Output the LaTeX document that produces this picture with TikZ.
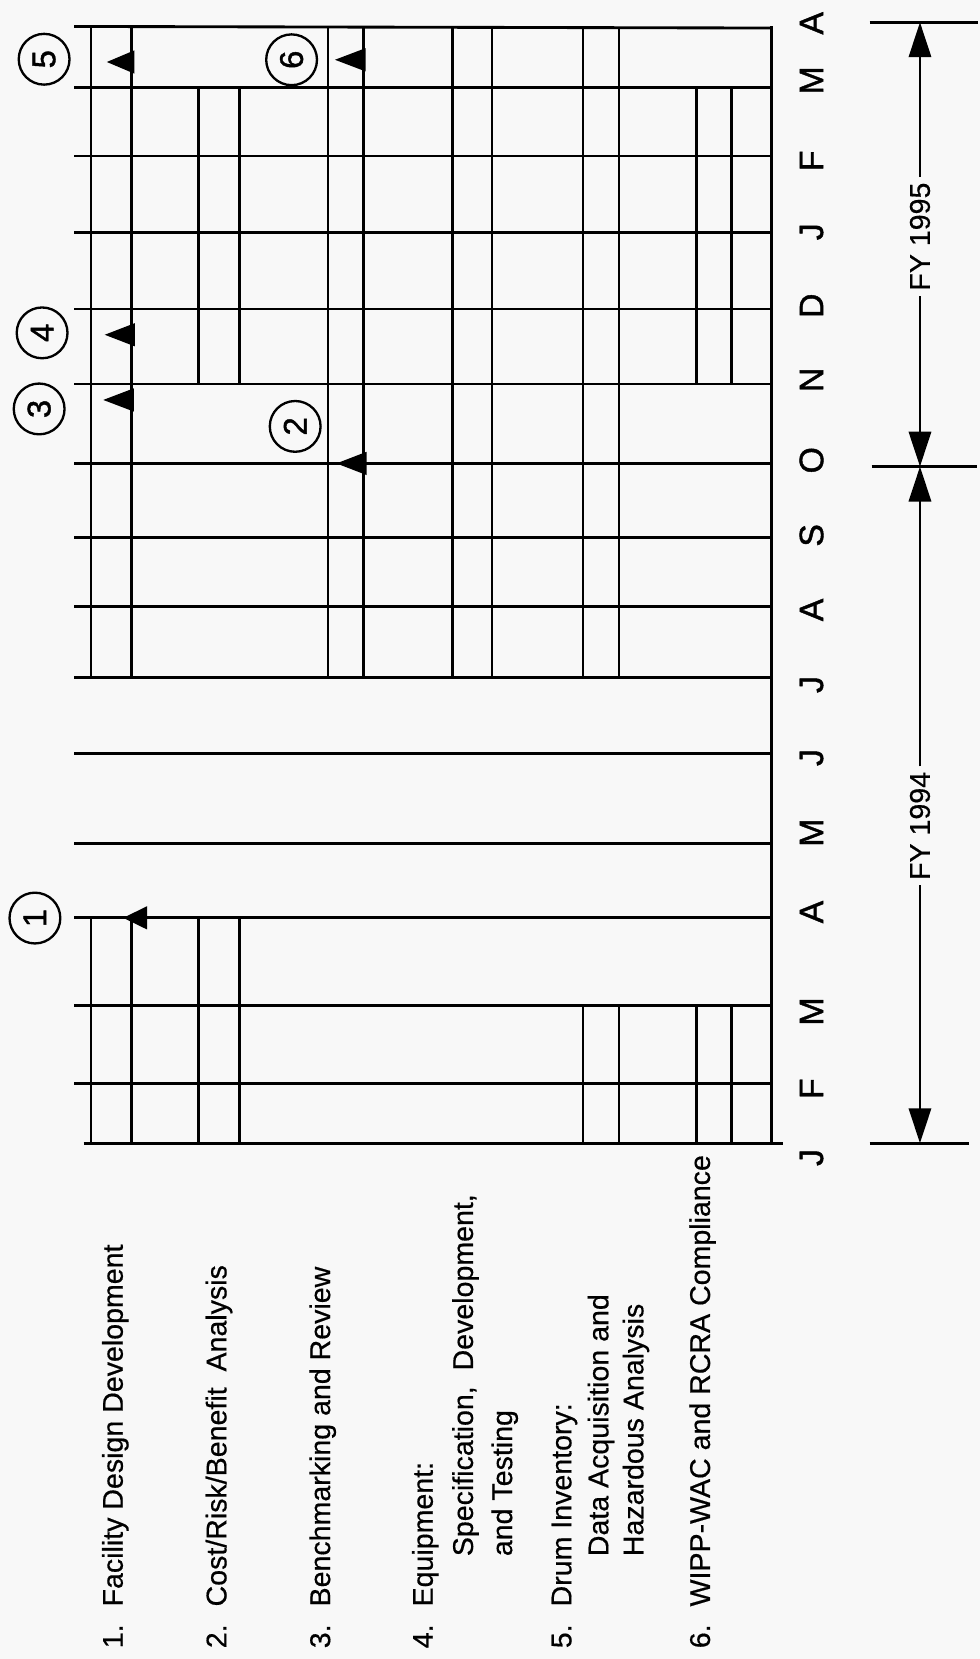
\documentclass[tikz,border=0pt]{standalone}
\usepackage{fontspec}
\setmainfont[FakeBold=0.5]{Liberation Sans}
\newfontfamily\monthfont[FakeBold=1.2]{Liberation Sans}
\usetikzlibrary{arrows.meta}
\definecolor{paper}{RGB}{248,248,248}
\newcommand\mstone[3]{\fill (#1,#2) -- (#3,{#2-11}) -- (#3,{#2+11}) -- cycle;}
\begin{document}
\begin{tikzpicture}[x=1pt,y=-1pt,
  hline/.style={line width=2.7pt},
  vline/.style={line width=2.7pt},
  ring/.style={circle,draw,line width=2.2pt,minimum size=48pt,inner sep=0pt,rotate=90,font=\monthfont\fontsize{31}{31}\selectfont},
  month/.style={rotate=90,inner sep=0pt,font=\monthfont\fontsize{32}{32}\selectfont},
  item/.style={rotate=90,anchor=base west,inner sep=0pt,font=\fontsize{27}{27}\selectfont},
  fylabel/.style={rotate=90,inner xsep=5pt,inner ysep=2pt,font=\fontsize{27}{27}\selectfont},
  dimline/.style={line width=2.5pt,-{Triangle[length=33pt,width=21pt]}},
  dimtick/.style={line width=2.7pt}
]
\path[fill=paper] (0,0) rectangle (926,1568);
\useasboundingbox (0,0) rectangle (926,1568);

% horizontal month lines
\foreach \yy in {83,147.5,220,292,363,438,508,573,640,712.5,797,867.5,950,1024}
  \draw[hline] (70,\yy) -- (729,\yy);
\draw[hline] (70,25) -- (729,26.5);
\draw[hline] (79,1080.5) -- (740,1080.5);

% right border
\draw[vline] (729,25) -- (729,1080.5);

% row 1: Facility Design Development
\draw[vline] (86,1080.5) -- (86,867.5) (124.4,1080.5) -- (124.4,867.5);
\draw[vline] (86,640) -- (86,25) (124.4,640) -- (124.4,25);
% row 2: Cost/Risk/Benefit
\draw[vline] (188,1080.5) -- (188,867.5) (226,1080.5) -- (226,867.5);
\draw[vline] (188,363) -- (188,83) (226,363) -- (226,83);
% row 3: Benchmarking
\draw[vline] (310,640) -- (310,25) (343.4,640) -- (343.4,25);
% row 4: Equipment
\draw[vline] (428,640) -- (428,25) (465,640) -- (465,25.5);
% row 5: Drum Inventory
\draw[vline] (551,1080.5) -- (551,950) (585,1080.5) -- (585,950);
\draw[vline] (551,640) -- (551,25.5) (585,640) -- (585,25.5);
% row 6: WIPP-WAC
\draw[vline] (658,1080.5) -- (658,950) (691,1080.5) -- (691,950);
\draw[vline] (658,363) -- (658,83) (691,363) -- (691,83);

% milestone markers
\mstone{101}{58.6}{127}
\mstone{99}{316.4}{127.5}
\mstone{97.6}{378}{126.5}
\mstone{316.6}{56.5}{345.5}
\mstone{318}{438}{346.5}
\mstone{116.5}{867.5}{139}

% milestone circles
\node[ring] (m5) at (41.7,56) {5};
\node[ring] (m6) at (275.6,56.5) {6};
\node[ring] (m4) at (39.8,314.6) {4};
\node[ring] (m3) at (37,386.5) {3};
\node[ring] (m2) at (279,403) {2};
\node[ring] (m1) at (33,867.7) {1};

% month labels
\foreach \lab/\yy [count=\i] in {A/22,M/76,F/152,J/219,D/289,N/359,O/435,S/506,A/576.5,J/647,J/716,M/787,A/862,M/956,F/1029,J/1094}
  \node[month] (mo\i) at (767,\yy) {\lab};

% task labels
\node[item] (n1) at (116,1558) {1.};
\node[item] (t1) at (116,1518.5) {Facility Design Development};
\node[item] (n2) at (214,1558) {2.};
\node[item] (t2) at (214,1518.5) {Cost/Risk/Benefit~~Analysis};
\node[item] (n3) at (312,1558) {3.};
\node[item] (t3) at (312,1518.5) {Benchmarking and Review};
\node[item] (n4) at (409,1558) {4.};
\node[item] (t4) at (409,1518.5) {Equipment:};
\node[item] (t4b) at (447,1471) {Specification,~~Development,};
\node[item] (t4c) at (484,1471) {and Testing};
\node[item] (n5) at (540,1558) {5.};
\node[item] (t5) at (540,1518.5) {Drum Inventory:};
\node[item] (t5b) at (575,1471) {Data Acquisition and};
\node[item] (t5c) at (608,1471) {Hazardous Analysis};
\node[item] (n6) at (671,1558) {6.};
\node[item] (t6) at (671,1518.5) {WIPP-WAC and RCRA Compliance};

% fiscal year dimensions
\coordinate (dtop) at (869.5,21);
\coordinate (dmid) at (869.5,441);
\coordinate (dbot) at (869.5,1080.5);
\node[fylabel] (fy95) at (869.5,223.6) {FY 1995};
\node[fylabel] (fy94) at (869.5,780.6) {FY 1994};
\draw[dimline] (fy95) -- (dtop);
\draw[dimline] (fy95) -- (dmid);
\draw[dimline] (fy94) -- (dmid);
\draw[dimline] (fy94) -- (dbot);
\draw[dimtick] (822,21) -- (924,21);
\draw[dimtick] (823.7,441) -- (923,441);
\draw[dimtick] (822,1080.5) -- (916,1080.5);
\end{tikzpicture}
\end{document}
